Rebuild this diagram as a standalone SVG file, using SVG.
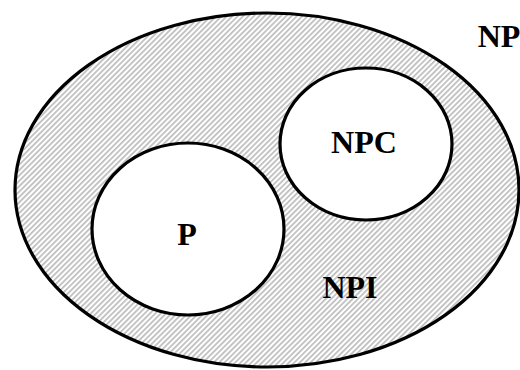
<svg xmlns="http://www.w3.org/2000/svg" width="520" height="370" viewBox="0 0 520 370">
<defs>
<pattern id="hatch" patternUnits="userSpaceOnUse" width="3.8" height="3.8" patternTransform="rotate(45)">
<line x1="0.9" y1="0" x2="0.9" y2="3.8" stroke="#a8a8a8" stroke-width="1.3"/>
</pattern>
</defs>
<style>
.lbl{font-family:"Liberation Serif","Times New Roman",serif;font-weight:bold;font-size:32px;fill:#000;text-anchor:middle}
.set{stroke:#000;stroke-width:3.2}
</style>
<rect width="520" height="370" fill="#fff"/>
<g id="NP">
<ellipse class="set" cx="267" cy="190" rx="252" ry="177" fill="url(#hatch)"/>
<text class="lbl" x="499" y="47">NP</text>
</g>
<g id="NPI">
<text class="lbl" x="350" y="298">NPI</text>
</g>
<g id="P">
<ellipse class="set" cx="188" cy="229" rx="96" ry="86" fill="#fff"/>
<text class="lbl" x="187" y="245">P</text>
</g>
<g id="NPC">
<ellipse class="set" cx="366" cy="144" rx="86" ry="76" fill="#fff"/>
<text class="lbl" x="364" y="153">NPC</text>
</g>
<g id="connectors"/>
</svg>
